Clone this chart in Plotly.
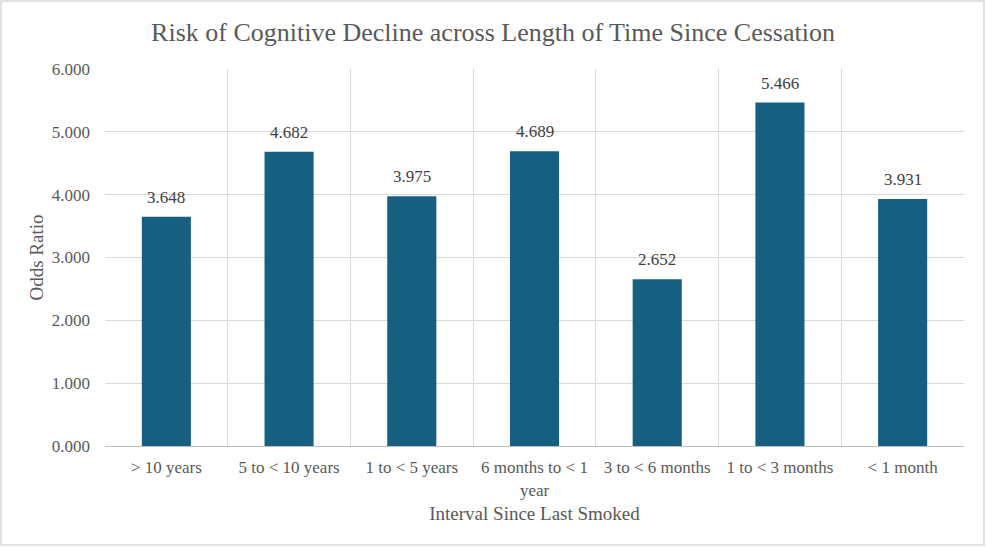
import plotly.graph_objects as go

categories = ["> 10 years", "5 to < 10 years", "1 to < 5 years", "6 months to < 1<br>year",
              "3 to < 6 months", "1 to < 3 months", "< 1 month"]
odds_ratio = [3.648, 4.682, 3.975, 4.689, 2.652, 5.466, 3.931]
y_ticks = [0, 1, 2, 3, 4, 5, 6]

W, H = 986, 547
L, R, T, B = 105, 22, 69, 101
pw, ph = W - L - R, H - T - B

fig = go.Figure(go.Bar(
    x=categories, y=odds_ratio,
    marker=dict(color="#175f80", line=dict(width=0)),
    width=0.4,
))

for c, v in zip(categories, odds_ratio):
    fig.add_annotation(x=c, y=v, text=f"{v:.3f}", showarrow=False,
                       yanchor="bottom", yshift=8,
                       font=dict(family="Liberation Serif", size=17, color="#404040"))

def px2paper_x(px):
    return (px - L) / pw

def px2paper_y(py):
    return (H - B - py) / ph

fig.update_layout(
    width=W, height=H,
    margin=dict(l=L, r=R, t=T, b=B),
    paper_bgcolor="white", plot_bgcolor="white",
    font=dict(family="Liberation Serif", color="#595959", size=17),
    title=dict(text="Risk of Cognitive Decline across Length of Time Since Cessation",
               x=0.5, xanchor="center", y=1 - 32 / H, yanchor="middle",
               font=dict(size=26, color="#595959", family="Liberation Serif")),
    xaxis=dict(
        type="category", tickson="boundaries", showgrid=True, gridcolor="#d9d9d9", gridwidth=1,
        showline=True, linecolor="#bfbfbf", linewidth=1, ticks="",
        ticklabelstandoff=6,
        tickfont=dict(size=17, color="#595959"),
        title=dict(text="Interval Since Last Smoked", font=dict(size=19, color="#595959"), standoff=8),
    ),
    yaxis=dict(
        range=[0, 6], tickvals=y_ticks, tickformat=".3f",
        showgrid=True, gridcolor="#d9d9d9", gridwidth=1, zeroline=False,
        showline=False, ticks="", ticklabelstandoff=14,
        tickfont=dict(size=17, color="#595959"),
        title=dict(text="Odds Ratio", font=dict(size=19, color="#595959"), standoff=3),
    ),
    showlegend=False,
    shapes=[dict(type="rect", xref="paper", yref="paper",
                 x0=px2paper_x(1), x1=px2paper_x(984),
                 y0=px2paper_y(545), y1=px2paper_y(1),
                 line=dict(color="#d9d9d9", width=1.5), fillcolor="rgba(0,0,0,0)", layer="below")],
)

fig.write_html("out.html")
